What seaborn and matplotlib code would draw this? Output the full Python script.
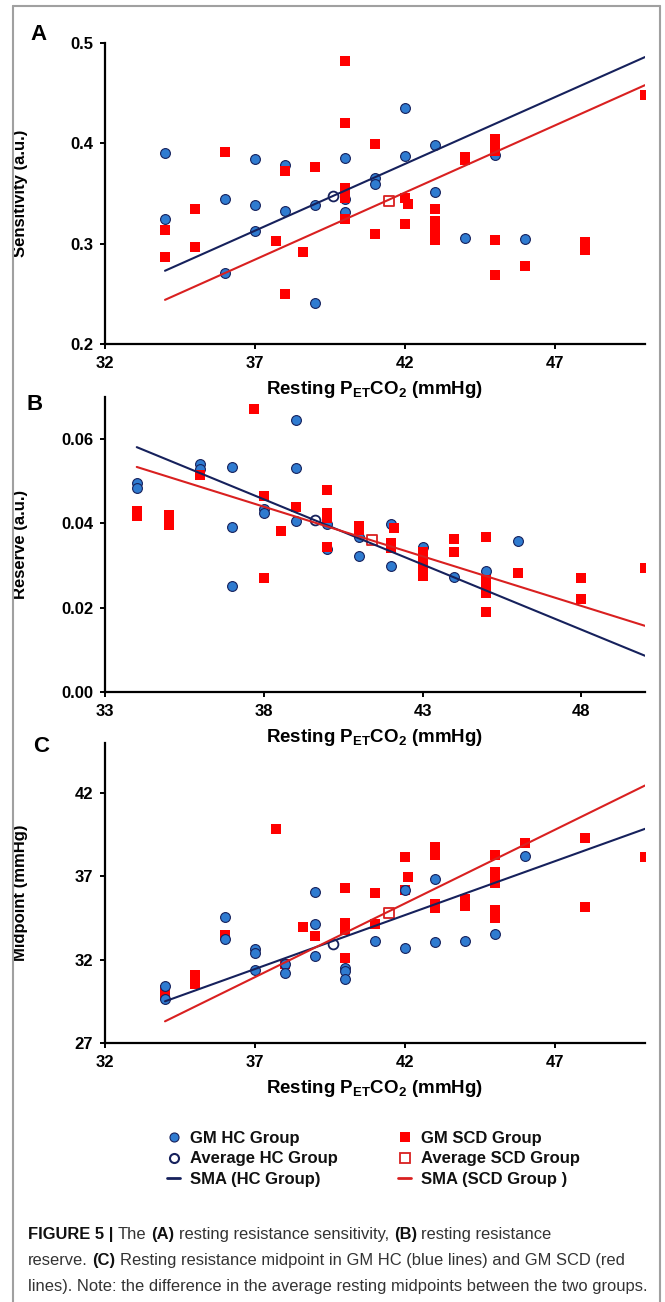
import matplotlib
matplotlib.use('Agg')
import matplotlib.pyplot as plt
from matplotlib.lines import Line2D
import seaborn as sns

# ---- data ----
FIT_X = [34, 50]

# (A) sensitivity
A_HC_X = [34, 34, 36, 36, 37, 37, 37, 38, 38, 39, 39, 40, 40, 40, 41, 41, 42, 42, 43, 43, 44, 45, 46]
A_HC_Y = [0.390, 0.325, 0.345, 0.271, 0.384, 0.339, 0.313, 0.378, 0.333, 0.339, 0.241, 0.385,
          0.345, 0.332, 0.365, 0.359, 0.435, 0.387, 0.398, 0.351, 0.306, 0.388, 0.305]
A_SCD_X = [34, 34, 35, 35, 36, 37.7, 38, 38, 38.6, 39, 40, 40, 40, 40, 40, 40, 41, 41, 42, 42.1,
           42, 43, 43, 43, 43, 43, 44, 44, 45, 45, 45, 45, 45, 46, 48, 48, 50]
A_SCD_Y = [0.314, 0.287, 0.335, 0.297, 0.391, 0.303, 0.372, 0.250, 0.292, 0.376, 0.482, 0.420,
           0.355, 0.350, 0.346, 0.325, 0.399, 0.310, 0.346, 0.340, 0.320, 0.335, 0.323, 0.316,
           0.309, 0.304, 0.386, 0.383, 0.404, 0.398, 0.392, 0.304, 0.269, 0.278, 0.302, 0.294, 0.448]
A_HC_AVG = (39.6, 0.348)
A_SCD_AVG = (41.45, 0.343)
A_HC_FIT = [0.273, 0.486]
A_SCD_FIT = [0.244, 0.458]

# (B) reserve
B_HC_X = [34, 34, 36, 36, 37, 37, 37, 38, 38, 39, 39, 39, 40, 40, 41, 41, 42, 42, 43, 44, 45, 46]
B_HC_Y = [0.0495, 0.0483, 0.0542, 0.0528, 0.0534, 0.0392, 0.0252, 0.0434, 0.0424, 0.0646, 0.0532,
          0.0405, 0.0398, 0.0339, 0.0368, 0.0323, 0.0398, 0.0300, 0.0345, 0.0272, 0.0287, 0.0358]
B_SCD_X = [34, 34, 35, 35, 36, 37.7, 38, 38, 38.55, 39, 40, 40, 40, 40, 41, 41, 42, 42, 42.1,
           43, 43, 43, 43, 43, 44, 44, 45, 45, 45, 45, 45, 46, 48, 48, 50]
B_SCD_Y = [0.0429, 0.0417, 0.0420, 0.0396, 0.0516, 0.0672, 0.0465, 0.0270, 0.0381, 0.0439, 0.0480,
           0.0424, 0.0412, 0.0343, 0.0394, 0.0384, 0.0354, 0.0341, 0.0390, 0.0333, 0.0316, 0.0302,
           0.0290, 0.0276, 0.0364, 0.0333, 0.0368, 0.0266, 0.0250, 0.0234, 0.0191, 0.0282, 0.0270,
           0.0220, 0.0294]
B_HC_AVG = (39.6, 0.0408)
B_SCD_AVG = (41.4, 0.0360)
B_HC_FIT = [0.0581, 0.0086]
B_SCD_FIT = [0.0534, 0.0157]

# (C) midpoint
C_HC_X = [34, 34, 36, 36, 37, 37, 37, 38, 38, 39, 39, 39, 40, 40, 40, 41, 42, 42, 43, 43, 44, 45, 46]
C_HC_Y = [30.40, 29.62, 34.54, 33.26, 32.62, 32.42, 31.36, 31.76, 31.22, 36.05, 34.12, 32.20,
          31.52, 31.32, 30.82, 33.10, 36.19, 32.72, 36.86, 33.06, 33.12, 33.52, 38.20]
C_SCD_X = [34, 34, 35, 35, 36, 37.7, 38, 38.6, 39, 40, 40, 40, 40, 41, 41, 42, 42, 42.1, 43, 43,
           43, 43, 44, 44, 45, 45, 45, 45, 45, 45, 46, 48, 48, 50]
C_SCD_Y = [30.16, 29.86, 31.06, 30.56, 33.46, 39.86, 31.76, 33.98, 33.42, 36.33, 34.18, 33.76,
           32.10, 35.99, 34.14, 38.17, 36.19, 36.94, 38.77, 38.30, 35.35, 35.10, 35.63, 35.23,
           38.27, 37.26, 36.90, 36.60, 34.98, 34.48, 38.98, 39.32, 35.19, 38.17]
C_HC_AVG = (39.6, 32.96)
C_SCD_AVG = (41.45, 34.82)
C_HC_FIT = [29.5, 39.85]
C_SCD_FIT = [28.3, 42.45]

LEGEND_HC = ['GM HC Group', 'Average HC Group', 'SMA (HC Group)']
LEGEND_SCD = ['GM SCD Group', 'Average SCD Group', 'SMA (SCD Group )']

XLABEL = r'Resting P$_{ET}$CO$_{2}$ (mmHg)'

CAPTION = [
    [('FIGURE 5 |', True), ('The', False), ('(A)', True), ('resting resistance sensitivity,', False),
     ('(B)', True), ('resting resistance', False)],
    [('reserve.', False), ('(C)', True),
     ('Resting resistance midpoint in GM HC (blue lines) and GM SCD (red', False)],
    [('lines). Note: the difference in the average resting midpoints between the two groups.', False)],
]

BLUE = '#2f7bd0'
NAVY = '#16215c'
RED = '#ff0000'
RED_LINE = '#d92020'

sns.set_theme(context='notebook', style='ticks')
plt.rcParams['font.family'] = ['Liberation Sans', 'DejaVu Sans']
plt.rcParams['font.weight'] = 'bold'
plt.rcParams['axes.labelweight'] = 'bold'
plt.rcParams['text.color'] = 'black'
plt.rcParams['axes.labelcolor'] = 'black'
plt.rcParams['mathtext.fontset'] = 'custom'
plt.rcParams['mathtext.rm'] = 'Liberation Sans:bold'
plt.rcParams['mathtext.bf'] = 'Liberation Sans:bold'
plt.rcParams['mathtext.default'] = 'bf'

W, H = 665, 1302


def fx(px):
    return px / W


def fy(py):
    return 1 - py / H


def draw_panel(ax, hc_x, hc_y, scd_x, scd_y, hc_avg, scd_avg, hc_fit, scd_fit, scd_on_top=True):
    hz, sz = (2, 3) if scd_on_top else (3, 2)
    sns.scatterplot(x=hc_x, y=hc_y, ax=ax, marker='o', s=50, color=BLUE,
                    edgecolor=NAVY, linewidth=0.8, zorder=hz)
    sns.scatterplot(x=scd_x, y=scd_y, ax=ax, marker='s', s=46, color=RED,
                    edgecolor=RED, linewidth=0, zorder=sz)
    sns.scatterplot(x=[hc_avg[0]], y=[hc_avg[1]], ax=ax, marker='o', s=50, color='white',
                    edgecolor=NAVY, linewidth=1.3, zorder=4)
    sns.scatterplot(x=[scd_avg[0]], y=[scd_avg[1]], ax=ax, marker='s', s=54, color='white',
                    edgecolor=RED_LINE, linewidth=1.3, zorder=4)
    sns.lineplot(x=FIT_X, y=hc_fit, ax=ax, color=NAVY, linewidth=1.5, zorder=5)
    sns.lineplot(x=FIT_X, y=scd_fit, ax=ax, color=RED_LINE, linewidth=1.5, zorder=5)
    sns.despine(ax=ax)
    ax.patch.set_alpha(0)
    for side in ['left', 'bottom']:
        ax.spines[side].set_linewidth(1.6)
        ax.spines[side].set_color('black')
    ax.tick_params(direction='out', length=3.5, width=1.4, labelsize=12, pad=5,
                   colors='black', labelcolor='black')


fig = plt.figure(figsize=(W / 100, H / 100), dpi=100)
fig.patch.set_facecolor('white')

left, width = fx(105), fx(645) - fx(105)
ax_a = fig.add_axes([left, fy(344), width, (344 - 43) / H])
ax_b = fig.add_axes([left, fy(692), width, (692 - 397) / H])
ax_c = fig.add_axes([left, fy(1043), width, (1043 - 743) / H])

draw_panel(ax_a, A_HC_X, A_HC_Y, A_SCD_X, A_SCD_Y, A_HC_AVG, A_SCD_AVG, A_HC_FIT, A_SCD_FIT)
ax_a.set_xlim(32, 50)
ax_a.set_ylim(0.2, 0.5)
ax_a.set_xticks([32, 37, 42, 47])
ax_a.set_yticks([0.2, 0.3, 0.4, 0.5])
ax_a.set_yticklabels(['0.2', '0.3', '0.4', '0.5'])
ax_a.set_ylabel('Sensitivity (a.u.)', fontsize=12, fontweight='bold')

draw_panel(ax_b, B_HC_X, B_HC_Y, B_SCD_X, B_SCD_Y, B_HC_AVG, B_SCD_AVG, B_HC_FIT, B_SCD_FIT)
ax_b.set_xlim(33, 50)
ax_b.set_ylim(0.0, 0.07)
ax_b.set_xticks([33, 38, 43, 48])
ax_b.set_yticks([0.0, 0.02, 0.04, 0.06])
ax_b.set_yticklabels(['0.00', '0.02', '0.04', '0.06'])
ax_b.set_ylabel('Reserve (a.u.)', fontsize=12, fontweight='bold')

draw_panel(ax_c, C_HC_X, C_HC_Y, C_SCD_X, C_SCD_Y, C_HC_AVG, C_SCD_AVG, C_HC_FIT, C_SCD_FIT,
           scd_on_top=False)
ax_c.set_xlim(32, 50)
ax_c.set_ylim(27, 45)
ax_c.set_xticks([32, 37, 42, 47])
ax_c.set_yticks([27, 32, 37, 42])
ax_c.set_ylabel('Midpoint (mmHg)', fontsize=12, fontweight='bold')

for ax in (ax_a, ax_b, ax_c):
    ax.set_xlabel(XLABEL, fontsize=13.5, fontweight='bold')
    h = ax.bbox.height
    ax.xaxis.set_label_coords(0.5, -35 / h)
    ax.yaxis.set_label_coords(-77 / 540, 0.5)

for letter, x, y in [('A', 30, 35), ('B', 26, 405), ('C', 33, 747)]:
    fig.text(fx(x), fy(y), letter, fontsize=16, fontweight='bold', color='black',
             ha='left', va='center')

# legend, two columns
hc_handles = [Line2D([], [], ls='none', marker='o', ms=6.5, mfc=BLUE, mec=NAVY, mew=0.8),
              Line2D([], [], ls='none', marker='o', ms=6.5, mfc='white', mec=NAVY, mew=1.5),
              Line2D([], [], color=NAVY, lw=2)]
scd_handles = [Line2D([], [], ls='none', marker='s', ms=6.5, mfc=RED, mec=RED, mew=0),
               Line2D([], [], ls='none', marker='s', ms=7, mfc='white', mec=RED_LINE, mew=1.3),
               Line2D([], [], color=RED_LINE, lw=2)]
for handles, labels, x0 in [(hc_handles, LEGEND_HC, 167), (scd_handles, LEGEND_SCD, 398)]:
    leg = fig.legend(handles, labels, loc='center left', bbox_to_anchor=(fx(x0), fy(1159)),
                     frameon=False, fontsize=12, handlelength=0.8, handletextpad=0.6,
                     labelspacing=0.32, borderpad=0, borderaxespad=0)
    for t in leg.get_texts():
        t.set_color('#111111')

# gray frame around the figure
frame_kw = dict(transform=fig.transFigure, color='#a0a0a0', lw=1.5)
fig.add_artist(Line2D([fx(13), fx(13)], [0, fy(6)], **frame_kw))
fig.add_artist(Line2D([fx(660), fx(660)], [0, fy(6)], **frame_kw))
fig.add_artist(Line2D([fx(13), fx(660)], [fy(6), fy(6)], **frame_kw))

# caption, chunk by chunk so that bold and regular parts can be mixed
renderer = fig.canvas.get_renderer()
cap_size = 11.9
space = 0.278 * cap_size * 100 / 72

for i, parts in enumerate(CAPTION):
    x = 28
    y = fy(1239 + 26 * i)
    for chunk, bold in parts:
        weight = 'bold' if bold else 'normal'
        color = '#111111' if bold else '#333333'
        t = fig.text(fx(x), y, chunk, fontsize=cap_size, fontweight=weight, color=color,
                     ha='left', va='baseline')
        x += t.get_window_extent(renderer).width + space

fig.savefig('out.png', dpi=100)
